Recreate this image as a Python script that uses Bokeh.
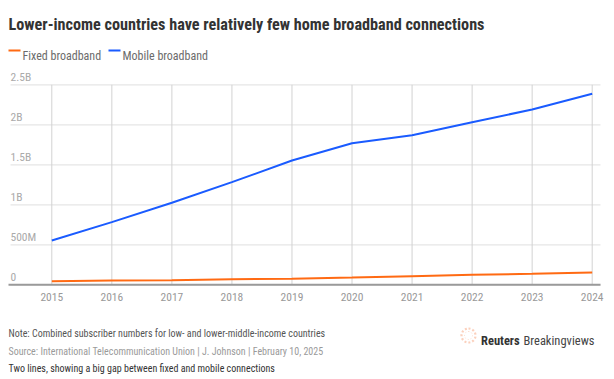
from bokeh.plotting import figure
from bokeh.models import ColumnDataSource, Label, LabelSet, BoxAnnotation
from bokeh.core.properties import value
from bokeh.embed import file_html
from bokeh.resources import INLINE

# ---- data ----
years = [2015, 2016, 2017, 2018, 2019, 2020, 2021, 2022, 2023, 2024]
year_labels = [str(y) for y in years]
mobile = [554e6, 783e6, 1025e6, 1283e6, 1554e6, 1770e6, 1870e6, 2033e6, 2191e6, 2387e6]
fixed = [45e6, 54e6, 58e6, 70e6, 75e6, 91e6, 108e6, 125e6, 137e6, 154e6]
y_ticks = [0, 500e6, 1000e6, 1500e6, 2000e6, 2500e6]
y_tick_labels = ["0", "500M", "1B", "1.5B", "2B", "2.5B"]

title = "Lower-income countries have relatively few home broadband connections"
legend_labels = ["Fixed broadband", "Mobile broadband"]
note = "Note: Combined subscriber numbers for low- and lower-middle-income countries"
source = "Source: International Telecommunication Union | J. Johnson | February 10, 2025"
desc = "Two lines, showing a big gap between fixed and mobile connections"

# ---- layout / style ----
FONT = "Roboto Condensed"
ORANGE = "#ff6a13"
BLUE = "#1a5bff"
W, H = 614, 379
# page pixel positions of the plot area
X2015, X2024 = 51.3, 591.7
Y0, Y25 = 284.3, 84.3
PL, PR = 10, 600
pxx = (X2024 - X2015) / (2024 - 2015)       # px per year
pxy = (Y0 - Y25) / 2.5e9                     # px per unit
x_start = 2015 - X2015 / pxx
x_end = 2024 + (W - X2024) / pxx
y_start = -(H - Y0) / pxy
y_end = 2.5e9 + Y25 / pxy

def dx(px):
    return x_start + px / pxx

p = figure(width=W, height=H, output_backend="svg", toolbar_location=None,
           x_range=(x_start, x_end), y_range=(y_start, y_end),
           min_border=0)
p.outline_line_color = None
p.axis.visible = False
p.grid.visible = False

# grid lines
p.segment(x0=[dx(PL)] * len(y_ticks), x1=[dx(PR)] * len(y_ticks), y0=y_ticks, y1=y_ticks,
          line_color="#e6e6e6", line_width=1.3)
p.segment(x0=years, x1=years, y0=[0] * len(years), y1=[y_ticks[-1]] * len(years),
          line_color="#d2d2d2", line_width=1)
# baseline
p.segment(x0=[dx(8)], x1=[dx(PR)], y0=[0], y1=[0], line_color="#9a9a9a", line_width=2)

# series
p.line(years, fixed, line_color=ORANGE, line_width=2)
p.line(years, mobile, line_color=BLUE, line_width=2)

# axis labels
ysrc = ColumnDataSource(dict(x=[dx(PL)] * len(y_ticks), y=y_ticks, t=y_tick_labels))
p.add_layout(LabelSet(x="x", y="y", text="t", source=ysrc, y_offset=3.6,
                      text_font=value(FONT), text_font_size=value("11.5px"),
                      text_color="#aaaaaa", text_baseline="alphabetic", text_align="left"))
xsrc = ColumnDataSource(dict(x=years, y=[0] * len(years), t=year_labels))
p.add_layout(LabelSet(x="x", y="y", text="t", source=xsrc, y_offset=-16.4,
                      text_font=value(FONT), text_font_size=value("11.5px"),
                      text_color="#999999", text_baseline="alphabetic", text_align="center"))

def lab(text, x, y, size, color, style="normal"):
    # x, y: page pixels, y = text baseline measured from the top
    p.add_layout(Label(x=x, y=H - y, x_units="screen", y_units="screen", text=text,
                       text_font=FONT, text_font_size=size, text_color=color,
                       text_font_style=style, text_baseline="alphabetic", text_align="left"))

def box(l, r, t, b, **kw):
    p.add_layout(BoxAnnotation(left=l, right=r, top=H - t, bottom=H - b,
                               left_units="screen", right_units="screen",
                               top_units="screen", bottom_units="screen", **kw))

lab(title, 8, 24, "16.2px", "#333333", "bold")
box(8, 20, 49, 51, fill_color=ORANGE, fill_alpha=1, line_color=None)
lab(legend_labels[0], 22, 55, "12px", "#6b6b6b")
box(108, 120, 49, 51, fill_color=BLUE, fill_alpha=1, line_color=None)
lab(legend_labels[1], 122, 55, "12px", "#6b6b6b")

lab(note, 8, 332.7, "10px", "#555555")
lab(source, 8, 350.7, "10px", "#9a9a9a")
lab(desc, 8, 368.3, "10px", "#333333")

box(461, 475, 328, 342, fill_color=None, fill_alpha=0, line_color="#f26522",
    line_width=2.2, line_dash="2 2", border_radius=7)
box(464, 472, 331, 339, fill_color=None, fill_alpha=0, line_color="#f58a55",
    line_width=1, line_dash="1 2", border_radius=4)
lab("Reuters", 480.5, 339.7, "12.5px", "#333333", "bold")
lab("Breakingviews", 523, 339.7, "12.5px", "#444444")

open("out.html", "w").write(file_html(p, INLINE))
